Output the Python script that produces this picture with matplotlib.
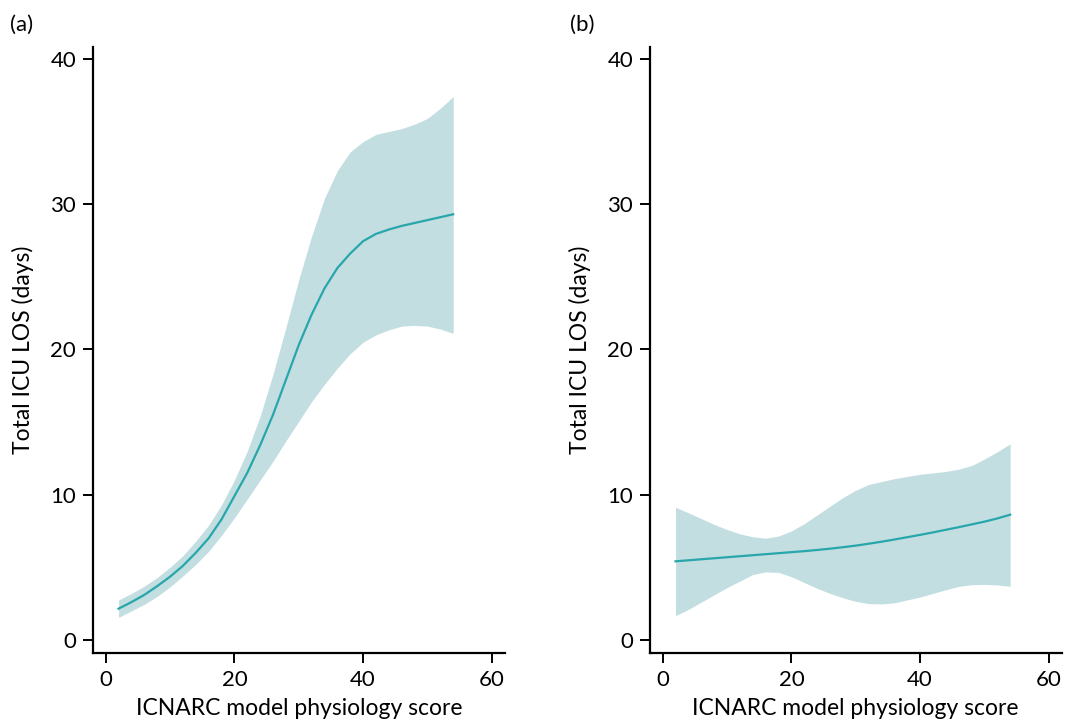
import numpy as np
import matplotlib
matplotlib.use("Agg")
import matplotlib.pyplot as plt

plt.rcParams['font.family'] = ['Lato', 'DejaVu Sans']

# ICNARC physiology score grid
score = [2, 4, 6, 8, 10, 12, 14, 16, 18, 20, 22, 24, 26, 28, 30,
         32, 34, 36, 38, 40, 42, 44, 46, 48, 50, 52, 54]

# panel (a)
mean_a = [2.15, 2.6, 3.1, 3.7, 4.35, 5.1, 6.0, 7.0, 8.3, 9.9, 11.5, 13.4, 15.5, 17.9, 20.3,
          22.4, 24.2, 25.6, 26.6, 27.45, 27.95, 28.25, 28.5, 28.7, 28.9, 29.1, 29.3]
upper_a = [2.75, 3.2, 3.7, 4.3, 5.0, 5.8, 6.8, 7.9, 9.3, 11.0, 13.0, 15.4, 18.3, 21.5, 24.8,
           27.8, 30.4, 32.3, 33.6, 34.3, 34.8, 35.0, 35.2, 35.5, 35.9, 36.6, 37.4]
lower_a = [1.55, 2.0, 2.45, 3.0, 3.65, 4.4, 5.2, 6.1, 7.2, 8.4, 9.7, 11.0, 12.3, 13.7, 15.05,
           16.4, 17.6, 18.7, 19.7, 20.5, 21.0, 21.35, 21.6, 21.65, 21.6, 21.4, 21.1]

# panel (b)
mean_b = [5.41, 5.48, 5.55, 5.62, 5.69, 5.76, 5.83, 5.90, 5.97, 6.04, 6.11, 6.19, 6.28, 6.38, 6.49,
          6.62, 6.76, 6.91, 7.07, 7.23, 7.40, 7.58, 7.76, 7.95, 8.14, 8.36, 8.62]
upper_b = [9.13, 8.75, 8.35, 7.95, 7.6, 7.3, 7.1, 7.0, 7.15, 7.5, 8.0, 8.6, 9.2, 9.8, 10.3,
           10.7, 10.9, 11.1, 11.25, 11.4, 11.5, 11.6, 11.75, 12.0, 12.45, 12.95, 13.5]
lower_b = [1.67, 2.1, 2.6, 3.1, 3.6, 4.05, 4.5, 4.68, 4.65, 4.35, 3.95, 3.55, 3.2, 2.9, 2.65,
           2.5, 2.48, 2.55, 2.75, 2.95, 3.2, 3.45, 3.68, 3.8, 3.82, 3.78, 3.69]

panels = [("(a)", mean_a, lower_a, upper_a), ("(b)", mean_b, lower_b, upper_b)]

line_col = '#27a6ab'
fill_col = '#c3dee1'

fig = plt.figure(figsize=(10.67, 7.22), dpi=100)
lefts = [0.087, 0.609]
label_x = [0.009, 0.534]

for i, (tag, mean, lo, hi) in enumerate(panels):
    ax = fig.add_axes([lefts[i], 0.0956, 0.386, 0.839])
    ax.fill_between(score, lo, hi, color=fill_col, linewidth=0)
    ax.plot(score, mean, color=line_col, lw=1.6)
    ax.set_xlim(-2, 62)
    ax.set_ylim(-0.9, 40.8)
    ax.set_xticks([0, 20, 40, 60])
    ax.set_yticks([0, 10, 20, 30, 40])
    for s in ['top', 'right']:
        ax.spines[s].set_visible(False)
    for s in ['left', 'bottom']:
        ax.spines[s].set_linewidth(1.6)
    ax.tick_params(direction='out', length=7, width=1.4, labelsize=16, pad=5)
    ax.set_xlabel("ICNARC model physiology score", fontsize=16.5, labelpad=6)
    ax.set_ylabel("Total ICU LOS (days)", fontsize=16.5, labelpad=12)
    fig.text(label_x[i], 0.965, tag, fontsize=16, va='center')

fig.savefig("out.png", dpi=100)
